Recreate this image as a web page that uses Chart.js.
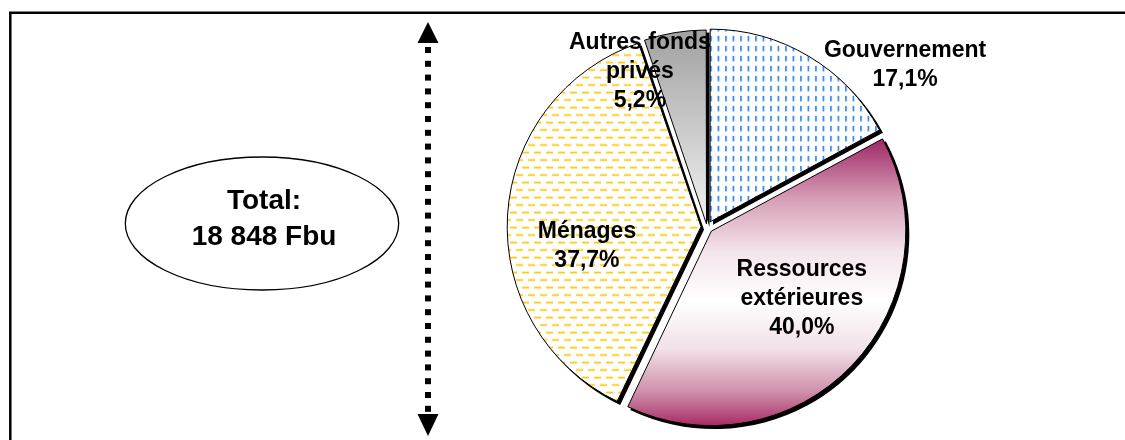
<!DOCTYPE html>
<html>
<head>
<meta charset="utf-8">
<script src="https://cdn.jsdelivr.net/npm/chart.js@4.4.0/dist/chart.umd.min.js"></script>
<style>
  html, body { margin: 0; padding: 0; background: #ffffff; overflow: hidden; }
  #wrap { width: 1125px; height: 440px; position: relative; }
  canvas { display: block; }
</style>
</head>
<body>
<div id="wrap"><canvas id="chart" width="1125" height="440"></canvas></div>
<script>
// Funding sources (one entry per slice, lines of the label)
const categories = [['Gouvernement'], ['Ressources', 'extérieures'], ['Ménages'], ['Autres fonds', 'privés']];
// Share of total expenditure, in percent
const shares = [17.1, 40.0, 37.7, 5.2];
// Text of the total bubble
const totalLines = ['Total:', '18 848 Fbu'];

// Label anchors: polar angle (degrees, canvas orientation) and distance in pie radii
const labelAnchors = [
  { angle: -39.3, dist: 1.333 },
  { angle: 37.2, dist: 0.62 },
  { angle: 171, dist: 0.633 },
  { angle: -113.4, dist: 0.88 }
];
// Explode distance of each slice (Chart.js offset units)
const sliceOffsets = [24, 24, 24, 12];

const FONT = '"Liberation Sans", Arial, sans-serif';
const canvas = document.getElementById('chart');
const ctx = canvas.getContext('2d');

function tile(w, h, paint) {
  const c = document.createElement('canvas');
  c.width = w; c.height = h;
  const g = c.getContext('2d');
  g.fillStyle = '#ffffff';
  g.fillRect(0, 0, w, h);
  paint(g);
  return ctx.createPattern(c, 'repeat');
}

// small blue vertical dashes
const bluePattern = tile(15, 10, g => {
  g.fillStyle = '#2E86F0';
  g.fillRect(2, 1, 1.7, 5.5);
  g.fillRect(9.5, 1, 1.7, 5.5);
});
// staggered yellow horizontal dashes
const yellowPattern = tile(12, 15, g => {
  g.fillStyle = '#FFC800';
  g.fillRect(0, 2, 7, 1.7);
  g.fillRect(6, 9.5, 6, 1.7);
  g.fillRect(0, 9.5, 1, 1.7);
});

function pieGeometry(chart) {
  const a = chart.chartArea;
  const ctrl = chart.getDatasetMeta(0).controller;
  const cx = (a.left + a.right) / 2;
  const cy = (a.top + a.bottom) / 2;
  const r = ctrl && ctrl.outerRadius ? ctrl.outerRadius : (Math.min(a.right - a.left, a.bottom - a.top) - 25) / 2;
  return { cx, cy, r };
}

function sliceFill(context) {
  const i = context.dataIndex;
  const chart = context.chart;
  if (i === 0) return bluePattern;
  if (i === 2) return yellowPattern;
  if (!chart.chartArea) return i === 1 ? '#D9A0B8' : '#CCCCCC';
  const { cy, r } = pieGeometry(chart);
  if (i === 1) {
    const gr = chart.ctx.createLinearGradient(0, cy - 0.46 * r, 0, cy + 1.03 * r);
    gr.addColorStop(0, '#A3306A');
    gr.addColorStop(0.2, '#D8A0B8');
    gr.addColorStop(0.38, '#F4E4EB');
    gr.addColorStop(0.55, '#FFFFFF');
    gr.addColorStop(0.72, '#F2E1E8');
    gr.addColorStop(0.87, '#CF90AB');
    gr.addColorStop(1, '#A5225E');
    return gr;
  }
  const gr = chart.ctx.createLinearGradient(0, cy - r, 0, cy);
  gr.addColorStop(0, '#A2A2A2');
  gr.addColorStop(1, '#F2F2F2');
  return gr;
}

const decor = {
  id: 'decor',
  // drop shadow under every slice, offset down-right
  beforeDatasetDraw(chart, args) {
    const c = chart.ctx;
    c.save();
    c.fillStyle = '#000000';
    args.meta.data.forEach(el => {
      const off = (el.options.offset || 0) / 4;
      const half = (el.startAngle + el.endAngle) / 2;
      const circ = el.endAngle - el.startAngle;
      const rad = el.outerRadius + off * (1 - Math.sin(Math.min(Math.PI, circ))) + 0.5;
      const x = el.x + Math.cos(half) * off + 3;
      const y = el.y + Math.sin(half) * off + 3;
      c.beginPath();
      c.moveTo(x, y);
      c.arc(x, y, rad, el.startAngle, el.endAngle);
      c.closePath();
      c.fill();
    });
    c.restore();
  },
  afterDraw(chart) {
    const c = chart.ctx;
    c.save();

    // frame
    c.strokeStyle = '#000';
    c.lineWidth = 2.5;
    c.beginPath();
    c.moveTo(10.3, 440);
    c.lineTo(10.3, 12.8);
    c.lineTo(1125, 12.8);
    c.stroke();

    // dotted double arrow
    const ax = 428;
    c.fillStyle = '#000';
    c.beginPath();
    c.moveTo(ax, 22); c.lineTo(ax + 10.5, 43); c.lineTo(ax - 10.5, 43); c.closePath();
    c.fill();
    c.beginPath();
    c.moveTo(ax, 436); c.lineTo(ax + 10.5, 414); c.lineTo(ax - 10.5, 414); c.closePath();
    c.fill();
    for (let y = 47; y + 6 <= 413; y += 13.8) {
      c.fillRect(ax - 3, y, 6, 6);
    }

    // total bubble
    c.lineWidth = 1.3;
    c.beginPath();
    c.ellipse(262, 223.5, 136.7, 66.5, 0, 0, Math.PI * 2);
    c.stroke();
    c.font = 'bold 28px ' + FONT;
    c.textAlign = 'center';
    c.textBaseline = 'alphabetic';
    c.fillText(totalLines[0], 264, 208.5);
    c.fillText(totalLines[1], 264, 244.5);

    // slice labels
    const meta = chart.getDatasetMeta(0);
    c.font = 'bold 23px ' + FONT;
    c.textBaseline = 'middle';
    const lh = 29;
    meta.data.forEach((el, i) => {
      const anc = labelAnchors[i];
      const ang = anc.angle * Math.PI / 180;
      const px = el.x + Math.cos(ang) * anc.dist * el.outerRadius;
      const py = el.y + Math.sin(ang) * anc.dist * el.outerRadius;
      const lines = categories[i].concat([shares[i].toFixed(1).replace('.', ',') + '%']);
      const y0 = py - (lines.length - 1) * lh / 2;
      lines.forEach((t, k) => c.fillText(t, px, y0 + k * lh));
    });
    c.restore();
  }
};

new Chart(canvas, {
  type: 'pie',
  data: {
    labels: categories.map(l => l.join(' ')),
    datasets: [{
      data: shares,
      backgroundColor: sliceFill,
      borderColor: '#000000',
      borderWidth: 1,
      hoverBorderWidth: 1,
      offset: sliceOffsets,
      hoverOffset: 24
    }]
  },
  options: {
    responsive: false,
    devicePixelRatio: 1,
    animation: false,
    events: [],
    layout: { padding: { left: 502.5, right: 213.5, top: 22.5, bottom: 8.5 } },
    plugins: { legend: { display: false }, tooltip: { enabled: false } }
  },
  plugins: [decor]
});
</script>
</body>
</html>
